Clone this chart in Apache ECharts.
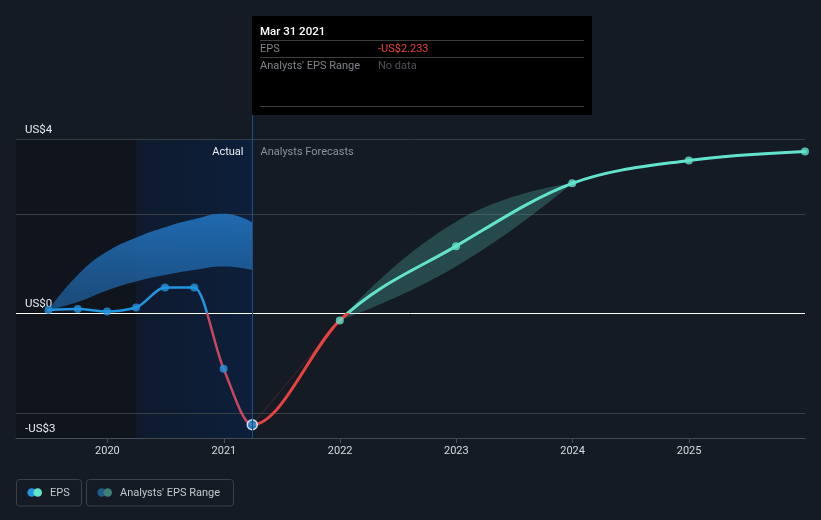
<!DOCTYPE html>
<html><head><meta charset="utf-8">
<script src="https://cdn.jsdelivr.net/npm/echarts@6/dist/echarts.min.js"></script>
<style>html,body{margin:0;padding:0;background:#151b25;} #c{width:821px;height:520px;}</style>
</head><body><div id="c"></div>
<script>
// ---- data ----
const histDates = ['2019-06-30','2019-09-30','2019-12-31','2020-03-31','2020-06-30','2020-09-30','2020-12-31','2021-03-31'];
const histEPS = [0.07, 0.09, 0.04, 0.12, 0.52, 0.52, -1.11, -2.233];
const pastRangeLow = [0.07, 0.23, 0.46, 0.64, 0.77, 0.87, 0.94, 0.87];
const pastRangeHigh = [0.07, 0.77, 1.24, 1.52, 1.73, 1.89, 2.0, 1.83];
const fcDates = ['2021-03-31','2021-12-31','2022-12-31','2023-12-31','2024-12-31','2025-12-31'];
const fcEPS = [-2.233, -0.14, 1.35, 2.61, 3.07, 3.25];
const fcRangeDates = ['2021-12-31','2022-12-31','2023-12-31'];
const fcRangeLow = [-0.14, 0.94, 2.61];
const fcRangeHigh = [-0.14, 1.84, 2.61];
const yTickValues = [3.5, 0, -2.5];
const yTickLabels = ['US$4', 'US$0', '-US$3'];
const gridValues = [3.5, 2, -2];
const periodStart = '2019-03-20';
const periodEnd = '2025-12-31';
const pastShadeEnd = '2020-03-31';
const actualEnd = '2021-03-31';
const tipTitle = 'Mar 31 2021';
const tipRows = [['EPS', '-US$2.233'], ["Analysts' EPS Range", 'No data']];
const legendItems = ['EPS', "Analysts' EPS Range"];

const FONT = 'Roboto, "Noto Sans", sans-serif';
const BLUE = '#2394df', TEAL = '#62e4cb', HNEG = '#c9475c', FNEG = '#e8423e';

const zip = (d, v) => d.map((x, i) => [x, v[i]]);
const ts = d => echarts.number.parseDate(d).getTime();
const allDates = histDates.concat(fcDates.slice(1));
const allEPS = histEPS.concat(fcEPS.slice(1));
const splitIdx = histDates.length - 1;

// monotone-x cubic tangents (pixel space)
function monotoneTangents(p) {
  const n = p.length, t = new Array(n);
  const sg = v => v < 0 ? -1 : 1;
  for (let i = 1; i < n - 1; i++) {
    const h0 = p[i][0] - p[i-1][0], h1 = p[i+1][0] - p[i][0];
    const s0 = (p[i][1] - p[i-1][1]) / h0, s1 = (p[i+1][1] - p[i][1]) / h1;
    const q = (s0 * h1 + s1 * h0) / (h0 + h1);
    t[i] = (sg(s0) + sg(s1)) * Math.min(Math.abs(s0), Math.abs(s1), 0.5 * Math.abs(q)) || 0;
  }
  t[0] = (3 * (p[1][1] - p[0][1]) / (p[1][0] - p[0][0]) - t[1]) / 2;
  t[n-1] = (3 * (p[n-1][1] - p[n-2][1]) / (p[n-1][0] - p[n-2][0]) - t[n-2]) / 2;
  return t;
}

const chart = echarts.init(document.getElementById('c'), null, {renderer: 'canvas'});

function renderEPS(params, api) {
  const pts = allDates.map((d, i) => api.coord([ts(d), allEPS[i]]));
  const t = monotoneTangents(pts);
  const y0 = api.coord([ts(actualEnd), 0])[1];
  const grad = (a, b) => ({type: 'linear', global: true, x: 0, y: y0 - 1, x2: 0, y2: y0 + 1,
    colorStops: [{offset: 0, color: a}, {offset: 0.5, color: a}, {offset: 0.5, color: b}, {offset: 1, color: b}]});
  const children = [];
  for (let i = 0; i < pts.length - 1; i++) {
    const [x0, yA] = pts[i], [x1, yB] = pts[i+1];
    const dx = (x1 - x0) / 3;
    const past = i < splitIdx;
    children.push({type: 'bezierCurve',
      shape: {x1: x0, y1: yA, x2: x1, y2: yB, cpx1: x0 + dx, cpy1: yA + dx * t[i], cpx2: x1 - dx, cpy2: yB - dx * t[i+1]},
      style: {fill: null, stroke: past ? grad(BLUE, HNEG) : grad(TEAL, FNEG), lineWidth: past ? 2.5 : 3, lineCap: 'round'}});
  }
  return {type: 'group', children};
}

const option = {
  backgroundColor: '#151b25',
  animation: false,
  textStyle: {fontFamily: FONT},
  grid: {left: 16, right: 16, top: 139, bottom: 82},
  xAxis: {
    type: 'time', min: periodStart, max: periodEnd,
    minInterval: 365 * 864e5, maxInterval: 366 * 864e5,
    axisLine: {onZero: false, lineStyle: {color: '#464c56'}},
    axisTick: {show: true, length: 5, lineStyle: {color: '#464c56'}},
    splitLine: {show: false},
    axisLabel: {color: '#d9dce1', fontSize: 11, margin: 8, fontFamily: FONT,
      showMinLabel: false, showMaxLabel: false,
      formatter: v => String(new Date(v).getFullYear())}
  },
  yAxis: {
    type: 'value', min: -2.5, max: 3.5, interval: 0.5,
    axisLine: {show: false}, axisTick: {show: false}, splitLine: {show: false},
    axisLabel: {inside: true, margin: 9, color: '#e8eaed', fontSize: 11.5, fontFamily: FONT,
      verticalAlign: 'bottom', padding: [0, 0, 3, 0],
      formatter: v => { const i = yTickValues.findIndex(t => Math.abs(t - v) < 1e-6); return i >= 0 ? yTickLabels[i] : ''; }}
  },
  series: [
    { // 0 background shading + gridlines
      type: 'line', data: [], z: 0, silent: true,
      markArea: {silent: true, z: 0, data: [
        [{xAxis: periodStart, itemStyle: {color: 'rgba(8,10,14,0.35)'}}, {xAxis: pastShadeEnd}],
        [{xAxis: pastShadeEnd, itemStyle: {color: {type: 'linear', x: 0, y: 0, x2: 1, y2: 0,
          colorStops: [{offset: 0, color: '#0f1a2c'}, {offset: 1, color: '#0c1f3b'}]}}}, {xAxis: actualEnd}]
      ]},
      markLine: {silent: true, symbol: 'none', label: {show: false}, z: 1,
        data: gridValues.map(v => ({yAxis: v, lineStyle: {color: '#373c45', width: 1, type: 'solid'}}))
          .concat([{yAxis: 0, lineStyle: {color: '#ffffff', width: 1, type: 'solid'}}])}
    },
    { // 1 past range low
      type: 'line', stack: 'past', smooth: 0.5, showSymbol: false, silent: true,
      data: zip(histDates, pastRangeLow), lineStyle: {opacity: 0}, z: 6
    },
    { // 2 past range diff
      type: 'line', stack: 'past', smooth: 0.5, showSymbol: false, silent: true,
      data: zip(histDates, pastRangeHigh.map((h, i) => h - pastRangeLow[i])),
      lineStyle: {opacity: 0}, z: 6,
      areaStyle: {opacity: 1, color: {type: 'linear', x: 0, y: 0, x2: 0, y2: 1,
        colorStops: [{offset: 0, color: 'rgba(33,112,186,0.92)'}, {offset: 1, color: 'rgba(30,92,150,0.75)'}]}}
    },
    { // 3 forecast range low
      type: 'line', stack: 'fc', smooth: 0.5, showSymbol: false, silent: true,
      data: zip(fcRangeDates, fcRangeLow), lineStyle: {opacity: 0}, z: 6
    },
    { // 4 forecast range diff
      type: 'line', stack: 'fc', smooth: 0.5, showSymbol: false, silent: true,
      data: zip(fcRangeDates, fcRangeHigh.map((h, i) => h - fcRangeLow[i])),
      lineStyle: {opacity: 0}, z: 6,
      areaStyle: {opacity: 1, color: 'rgba(84,196,178,0.28)'}
    },
    { // 5 faint connector
      type: 'line', showSymbol: false, silent: true, z: 6,
      data: [[fcDates[0], fcEPS[0]], [fcDates[1], fcEPS[1]]],
      lineStyle: {color: 'rgba(120,50,50,0.45)', width: 1}
    },
    { // 6 EPS line (actual + forecast), monotone curve through library coords
      type: 'custom', z: 7, silent: true, clip: false,
      data: [[ts(allDates[0]), allEPS[0]]],
      renderItem: (params, api) => params.dataIndex === 0 ? renderEPS(params, api) : null
    },
    { // 7 historical dots
      type: 'scatter', symbolSize: 8, z: 8,
      data: zip(histDates.slice(0, -1), histEPS.slice(0, -1)), itemStyle: {color: BLUE}
    },
    { // 8 forecast dots
      type: 'scatter', symbolSize: 8, z: 8,
      data: zip(fcDates.slice(1), fcEPS.slice(1)), itemStyle: {color: TEAL}
    },
    { // 9 highlighted point
      type: 'scatter', symbolSize: 10, z: 9,
      data: [[histDates[histDates.length - 1], histEPS[histEPS.length - 1]]],
      itemStyle: {color: BLUE, borderColor: '#ffffff', borderWidth: 1.5}
    }
  ]
};
chart.setOption(option);

const px = chart.convertToPixel({xAxisIndex: 0}, ts(actualEnd));
const gx = Math.round(px) + 0.5;
const tipX = Math.round(px);
const F11 = '11px ' + FONT;
const graphics = [
  {type: 'line', shape: {x1: gx, y1: 115, x2: gx, y2: 438}, style: {stroke: '#1d4e8c', lineWidth: 1}, z: 10, silent: true},
  {type: 'text', x: gx - 9, y: 152, style: {text: 'Actual', fill: '#eceef1', font: F11, textAlign: 'right', textVerticalAlign: 'middle'}, z: 10},
  {type: 'text', x: gx + 8, y: 152, style: {text: 'Analysts Forecasts', fill: '#8b9099', font: F11, textAlign: 'left', textVerticalAlign: 'middle'}, z: 10},
  {type: 'rect', shape: {x: tipX, y: 16, width: 340, height: 99}, style: {fill: '#000000'}, z: 20},
  {type: 'text', x: tipX + 8, y: 32, style: {text: tipTitle, fill: '#ffffff', font: '500 11.5px ' + FONT, textVerticalAlign: 'middle'}, z: 21},
  {type: 'line', shape: {x1: tipX + 8, y1: 40.5, x2: tipX + 332, y2: 40.5}, style: {stroke: '#3e3e3e', lineWidth: 1}, z: 21},
  {type: 'text', x: tipX + 8, y: 49, style: {text: tipRows[0][0], fill: '#7f848b', font: F11, textVerticalAlign: 'middle'}, z: 21},
  {type: 'text', x: tipX + 126, y: 49, style: {text: tipRows[0][1], fill: '#e8423e', font: F11, textVerticalAlign: 'middle'}, z: 21},
  {type: 'line', shape: {x1: tipX + 8, y1: 57.5, x2: tipX + 332, y2: 57.5}, style: {stroke: '#3e3e3e', lineWidth: 1}, z: 21},
  {type: 'text', x: tipX + 8, y: 66, style: {text: tipRows[1][0], fill: '#7f848b', font: F11, textVerticalAlign: 'middle'}, z: 21},
  {type: 'text', x: tipX + 126, y: 66, style: {text: tipRows[1][1], fill: '#4f5359', font: F11, textVerticalAlign: 'middle'}, z: 21},
  {type: 'line', shape: {x1: tipX + 8, y1: 106.5, x2: tipX + 332, y2: 106.5}, style: {stroke: '#3e3e3e', lineWidth: 1}, z: 21},
  // legend
  {type: 'rect', shape: {x: 16.5, y: 479.5, width: 65, height: 26.5, r: 3}, style: {fill: 'transparent', stroke: '#3b414b', lineWidth: 1}, z: 10},
  {type: 'circle', shape: {cx: 31.7, cy: 492.5, r: 4.3}, style: {fill: BLUE}, z: 11},
  {type: 'circle', shape: {cx: 37.7, cy: 492.5, r: 4.3}, style: {fill: TEAL}, z: 11},
  {type: 'text', x: 50, y: 493, style: {text: legendItems[0], fill: '#c3c7cd', font: F11, textVerticalAlign: 'middle'}, z: 11},
  {type: 'rect', shape: {x: 86.5, y: 479.5, width: 147, height: 26.5, r: 3}, style: {fill: 'transparent', stroke: '#3b414b', lineWidth: 1}, z: 10},
  {type: 'circle', shape: {cx: 101.7, cy: 492.5, r: 4.3}, style: {fill: '#1f5a8c'}, z: 11},
  {type: 'circle', shape: {cx: 107.7, cy: 492.5, r: 4.3}, style: {fill: '#3e7e75'}, z: 11},
  {type: 'text', x: 120, y: 493, style: {text: legendItems[1], fill: '#c3c7cd', font: F11, textVerticalAlign: 'middle'}, z: 11}
];
chart.setOption({graphic: graphics});
</script></body></html>
